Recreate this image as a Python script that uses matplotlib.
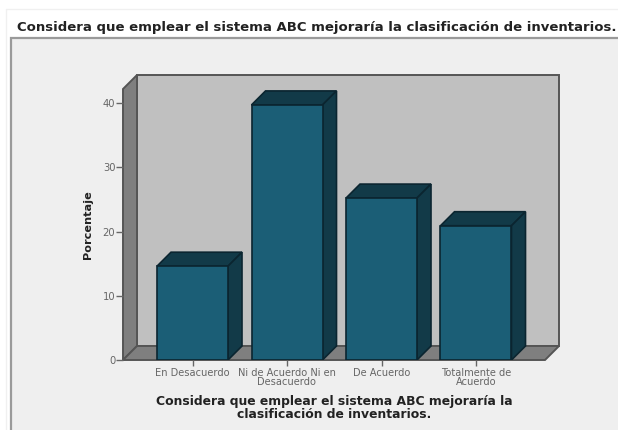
import numpy as np
import matplotlib
matplotlib.use("Agg")
import matplotlib.pyplot as plt
from matplotlib.patches import Polygon, Rectangle

# datos de la grafica
categorias = ['En Desacuerdo', 'Ni de Acuerdo Ni en\nDesacuerdo', 'De Acuerdo', 'Totalmente de\nAcuerdo']
porcentajes = [14.6, 39.7, 25.2, 20.9]
marcas_y = [0, 10, 20, 30, 40]

titulo = 'Considera que emplear el sistema ABC mejoraría la clasificación de inventarios.'
titulo_x = 'Considera que emplear el sistema ABC mejoraría la\nclasificación de inventarios.'
titulo_y = 'Porcentaje'

W, H = 618, 430
plt.rcParams['font.family'] = ['DejaVu Sans']

fig = plt.figure(figsize=(W / 100, H / 100), dpi=100, facecolor='white')

# fondo de la ventana
bg = fig.add_axes([0, 0, 1, 1])
bg.set_xlim(0, W)
bg.set_ylim(H, 0)
bg.axis('off')
bg.add_patch(Rectangle((11, 38), W, H, fc='#efefef', ec='#9a9a9a', lw=1.6))
bg.plot([5.5, 5.5, W], [H, 8.5, 8.5], color='#f0f0f0', lw=1)

# ejes: plano frontal de la grafica
left, right, bottom, top = 123, 545, 360, 89
ax = fig.add_axes([left / W, 1 - bottom / H, (right - left) / W, (bottom - top) / H])
ax.patch.set_alpha(0)
for s in ax.spines.values():
    s.set_visible(False)

x = np.arange(len(categorias))
px_x = 94.5
px_y = 6.425
ancho = 71 / px_x
dx = 14 / px_x
dy = 14 / px_y
x0 = -(192.5 - left) / px_x
x1 = x0 + (right - left) / px_x
y1 = (bottom - top) / px_y
ax.set_xlim(x0, x1)
ax.set_ylim(0, y1)

borde = '#555555'
kw = dict(clip_on=False, ec=borde, lw=1.4, joinstyle='miter')
# pared trasera, pared izquierda y piso
ax.add_patch(Polygon([(x0 + dx, dy), (x1 + dx, dy), (x1 + dx, y1 + dy), (x0 + dx, y1 + dy)], fc='#c0c0c0', zorder=1, **kw))
ax.add_patch(Polygon([(x0, 0), (x0 + dx, dy), (x0 + dx, y1 + dy), (x0, y1)], fc='#7f7f7f', zorder=1, **kw))
ax.add_patch(Polygon([(x0, 0), (x1, 0), (x1 + dx, dy), (x0 + dx, dy)], fc='#7f7f7f', zorder=1, **kw))

# barras en 3D
oscuro = '#123a48'
borde_b = '#0b2530'
for xi, v in zip(x, porcentajes):
    a = xi - ancho / 2
    b = xi + ancho / 2
    ax.add_patch(Polygon([(a, v), (b, v), (b + dx, v + dy), (a + dx, v + dy)], fc=oscuro, ec=borde_b, lw=1.2, zorder=2))
    ax.add_patch(Polygon([(b, 0), (b + dx, dy), (b + dx, v + dy), (b, v)], fc=oscuro, ec=borde_b, lw=1.2, zorder=2))
ax.bar(x, porcentajes, ancho, color='#1b5e76', edgecolor=borde_b, linewidth=1.2, zorder=3)

ax.set_xticks(x)
ax.set_xticklabels(categorias, fontsize=7.1, color='#666666', linespacing=0.95)
ax.set_yticks(marcas_y)
ax.set_yticklabels(marcas_y, fontsize=7.2, color='#666666')
ax.tick_params(axis='x', length=4, width=1, color='#666666', pad=1.5)
ax.tick_params(axis='y', length=5, width=1, color='#666666', pad=0.5)

# textos
fig.text(317 / W, 1 - 27 / H, titulo, ha='center', va='center', fontsize=9.55, fontweight='bold', color='#222222')
fig.text(334.5 / W, 1 - 408 / H, titulo_x, ha='center', va='center', fontsize=8.95, fontweight='bold', color='#222222', linespacing=0.95)
fig.text(88 / W, 1 - 225 / H, titulo_y, ha='center', va='center', rotation=90, fontsize=8.1, fontweight='bold', color='#222222')

fig.savefig('out.png', dpi=100)
